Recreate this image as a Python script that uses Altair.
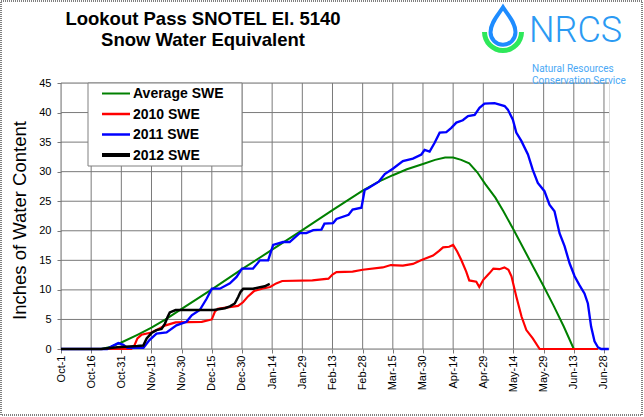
import math
import pandas as pd
import altair as alt

# ---------------- data ----------------
series_names = ["Average SWE", "2010 SWE", "2011 SWE", "2012 SWE"]
series_colors = ["#008000", "#ff0000", "#0000ff", "#000000"]
series_widths = [2, 2.5, 2.5, 4]

tick_labels = ["Oct-1", "Oct-16", "Oct-31", "Nov-15", "Nov-30", "Dec-15", "Dec-30",
               "Jan-14", "Jan-29", "Feb-13", "Feb-28", "Mar-15", "Mar-30", "Apr-14",
               "Apr-29", "May-14", "May-29", "Jun-13", "Jun-28"]
tick_days = [0, 15, 30, 45, 60, 75, 90, 105, 120, 135, 150, 165, 180, 195, 210,
             225, 240, 255, 270]
y_ticks = [0, 5, 10, 15, 20, 25, 30, 35, 40, 45]

avg_days = [0, 20, 25, 30, 38, 45, 52, 60, 75, 90, 105, 120, 135, 150, 158, 165,
            172, 180, 186, 191, 195, 199, 203, 207, 211, 216, 220, 225, 230, 235,
            240, 245, 250, 255]
avg_vals = [0, 0, 0.4, 1.1, 2.4, 3.6, 5.0, 6.8, 10.1, 13.5, 16.8, 20.1, 23.5, 26.8,
            28.3, 29.4, 30.4, 31.3, 32.0, 32.4, 32.4, 32.0, 31.4, 29.9, 27.9, 25.6,
            23.3, 20.2, 17.0, 13.8, 10.6, 7.3, 3.8, 0]

y2010_days = [0, 35, 36.5, 38, 40, 45, 48, 52, 57, 70, 75, 76.5, 78, 82, 88, 90.5,
              93, 96, 100, 104, 107, 110, 125, 133, 135, 137, 145, 150, 160, 164,
              170, 175, 179, 185, 188, 190, 193, 195, 197, 199, 201.5, 203, 206.5,
              208, 210, 213, 215, 218, 220.5, 222.5, 224, 226.4, 229, 231.4, 234.6,
              238, 267]
y2010_vals = [0, 0, 0.6, 1.8, 2.4, 2.8, 3.3, 4.0, 4.5, 4.6, 5.0, 6.3, 6.8, 7.0, 7.3,
              7.9, 8.9, 9.8, 10.2, 10.5, 11.1, 11.5, 11.6, 11.9, 12.6, 13.0, 13.1,
              13.4, 13.8, 14.2, 14.1, 14.4, 15.0, 15.8, 16.6, 17.2, 17.3, 17.6, 16.5,
              15.1, 13.1, 11.6, 11.4, 10.5, 11.7, 12.8, 13.6, 13.5, 13.8, 13.4, 12.3,
              8.9, 5.5, 3.2, 1.8, 0, 0]

y2011_days = [0, 23, 25, 28.5, 31, 33, 41, 44, 47.5, 52.5, 57.4, 62.4, 65, 69, 72.4,
              75, 79, 84, 87.3, 90, 95.5, 98.9, 103, 105.5, 110.4, 113.7, 118.7, 122,
              125.4, 129.5, 131, 135.3, 137, 143, 145, 149.4, 151, 152.7, 158, 161,
              165, 170, 175, 179.2, 180.8, 183.3, 185.8, 188.3, 191.6, 194.1, 196.6,
              199.8, 202.4, 205.7, 208.1, 210.6, 215.6, 220.6, 222.2, 224.7, 226.4,
              228.9, 232.2, 234.6, 237.1, 240.4, 242.9, 245.4, 247.9, 250.4, 252.9,
              255.4, 257.8, 260.3, 262, 263.6, 265.3, 267, 268.6, 272.4]
y2011_vals = [0, 0, 0.4, 1.0, 0.7, 0.2, 0.2, 1.5, 2.6, 2.8, 4.0, 4.6, 5.7, 6.6, 8.5,
              10.2, 10.2, 11.1, 12.2, 13.6, 13.6, 15.0, 15.0, 17.6, 18.1, 18.1, 19.6,
              19.6, 20.1, 20.2, 21.2, 21.3, 22.0, 22.7, 23.6, 23.9, 26.9, 27.2, 28.3,
              29.6, 30.5, 31.8, 32.2, 32.9, 33.7, 33.4, 34.9, 36.6, 36.7, 37.4, 38.3,
              38.7, 39.4, 39.6, 40.8, 41.5, 41.6, 41.1, 40.5, 38.8, 36.6, 35.2, 32.9,
              30.3, 28.1, 26.7, 24.4, 23.3, 19.6, 17.4, 14.5, 12.3, 10.8, 9.4, 7.7,
              3.8, 1.3, 0.3, 0, 0]

y2012_days = [0, 20, 28, 38, 40.9, 42.6, 45, 47.5, 50, 51.7, 53, 54.1, 57, 76, 81.5,
              84, 86.4, 88.1, 89.2, 90.6, 95.5, 101.3, 103.8]
y2012_vals = [0, 0, 0.3, 0.5, 0.6, 1.8, 2.7, 3.2, 3.4, 4.3, 5.4, 6.2, 6.6, 6.6, 6.9,
              7.2, 7.7, 8.8, 9.6, 10.2, 10.2, 10.6, 11.0]

title_lines = ["Lookout Pass SNOTEL El. 5140", "Snow Water Equivalent"]
y_title = "Inches of Water Content"
logo_name = "NRCS"
logo_lines = ["Natural Resources", "Conservation Service"]

# ---------------- tables ----------------
rows = []
for name, ds, vs in zip(series_names,
                        [avg_days, y2010_days, y2011_days, y2012_days],
                        [avg_vals, y2010_vals, y2011_vals, y2012_vals]):
    for d, v in zip(ds, vs):
        rows.append({"series": name, "day": d, "swe": v})
df = pd.DataFrame(rows)
one = pd.DataFrame({"k": [0]})
xgrid_df = pd.DataFrame({"day": tick_days})
ygrid_df = pd.DataFrame({"swe": y_ticks})

FONT = "Liberation Sans"
GRID = "#7a7a7a"
label_expr = "[" + ",".join("'%s'" % t for t in tick_labels) + "][round(datum.value/15)]"

x_scale = alt.Scale(domain=[0, 272.5], nice=False, zero=False)
y_scale = alt.Scale(domain=[0, 45], nice=False)

x_axis = alt.Axis(values=tick_days, labelExpr=label_expr, labelAngle=-90,
                  title=None, grid=False, tickSize=4,
                  tickColor=GRID, labelPadding=2, labelFontSize=11,
                  labelFont=FONT, labelColor="black", domain=False,
                  labelOverlap=False)
y_axis = alt.Axis(values=y_ticks, title=y_title,
                  titleFont=FONT, titleFontSize=18.5, titleFontWeight="normal",
                  titleColor="black", titleX=-36, titleY=137, titleAngle=270,
                  titleBaseline="alphabetic", titleAlign="center",
                  grid=False, tickSize=4,
                  tickColor=GRID, labelPadding=6, labelFontSize=11,
                  labelFont=FONT, labelColor="black", domain=False)

color_enc = alt.Color("series:N",
                      scale=alt.Scale(domain=series_names, range=series_colors),
                      legend=None)
width_enc = alt.StrokeWidth("series:N",
                            scale=alt.Scale(domain=series_names, range=series_widths),
                            legend=None)

# gridlines (at the axis tick values, through the same scales)
xgrid = alt.Chart(xgrid_df).mark_rule(color=GRID, strokeWidth=1).encode(
    x=alt.X("day:Q", scale=x_scale, axis=x_axis))
ygrid = alt.Chart(ygrid_df).mark_rule(color=GRID, strokeWidth=1).encode(
    y=alt.Y("swe:Q", scale=y_scale, axis=y_axis))

base = alt.Chart(df).mark_line().encode(
    x=alt.X("day:Q", scale=x_scale, axis=x_axis),
    y=alt.Y("swe:Q", scale=y_scale, axis=y_axis),
    color=color_enc, strokeWidth=width_enc)
lines = [base.transform_filter(alt.datum.series == s) for s in series_names]

# ---------------- legend box ----------------
deco = alt.Chart(one)
legend_parts = [deco.mark_rect(fill="white", stroke="#808080", strokeWidth=1).encode(
    x=alt.value(27), x2=alt.value(181), y=alt.value(0), y2=alt.value(83))]
for i, (name, col, w) in enumerate(zip(series_names, series_colors, series_widths)):
    yy = 10.5 + 20.5 * i
    legend_parts.append(deco.mark_rule(color=col, strokeWidth=w).encode(
        x=alt.value(41), x2=alt.value(69), y=alt.value(yy)))
    legend_parts.append(deco.mark_text(text=name, font=FONT, fontSize=14,
                                       fontWeight="bold", align="left",
                                       baseline="middle", color="black").encode(
        x=alt.value(72), y=alt.value(yy + 0.5)))

# ---------------- decorations (title, logo, frame) ----------------
title1 = deco.mark_text(text=title_lines[0], font=FONT, fontSize=18.5, fontWeight="bold",
                        align="center", baseline="alphabetic", color="black").encode(
    x=alt.value(142), y=alt.value(-58))
title2 = deco.mark_text(text=title_lines[1], font=FONT, fontSize=18.5, fontWeight="bold",
                        align="center", baseline="alphabetic", color="black").encode(
    x=alt.value(142), y=alt.value(-37))
drop_path = ("M0,-1 C0.25,-0.6 0.667,-0.2 0.667,0.333 A0.667,0.667 0 1 1 -0.667,0.333 "
             "C-0.667,-0.2 -0.25,-0.6 0,-1 Z")
drop = deco.mark_point(shape=drop_path, filled=False, stroke="#1e8cff", strokeWidth=4,
                       opacity=1, size=1400).encode(x=alt.value(442), y=alt.value(-57))
arc = deco.mark_arc(theta=math.pi / 2, theta2=3 * math.pi / 2, radius=21, radius2=16,
                    color="#2ee85a").encode(x=alt.value(442), y=alt.value(-51))
nrcs = deco.mark_text(text=logo_name, font="Roboto", fontSize=36, fontWeight=300,
                      align="left", baseline="alphabetic", color="#2b9af3").encode(
    x=alt.value(468), y=alt.value(-41))
nr1 = deco.mark_text(text=logo_lines[0], font="Roboto", fontSize=10,
                     align="left", baseline="alphabetic", color="#4aa8f5").encode(
    x=alt.value(471), y=alt.value(-11))
nr2 = deco.mark_text(text=logo_lines[1], font="Roboto", fontSize=10,
                     align="left", baseline="alphabetic", color="#4aa8f5").encode(
    x=alt.value(471), y=alt.value(1))
frame = deco.mark_rect(filled=False, stroke="black", strokeWidth=1,
                       strokeDash=[1, 1]).encode(
    x=alt.value(-60), x2=alt.value(581), y=alt.value(-82), y2=alt.value(332))

chart = alt.layer(xgrid, ygrid, *lines, *legend_parts, frame, title1, title2, drop, arc,
                  nrcs, nr1, nr2).properties(
    width=548, height=266,
    padding={"left": 61, "top": 83, "right": 35, "bottom": 68},
    autosize=alt.AutoSizeParams(type="none"),
).configure_view(stroke=GRID, strokeWidth=1).configure(background="white")

chart.save("out.html", embed_options={"renderer": "svg", "actions": False})
